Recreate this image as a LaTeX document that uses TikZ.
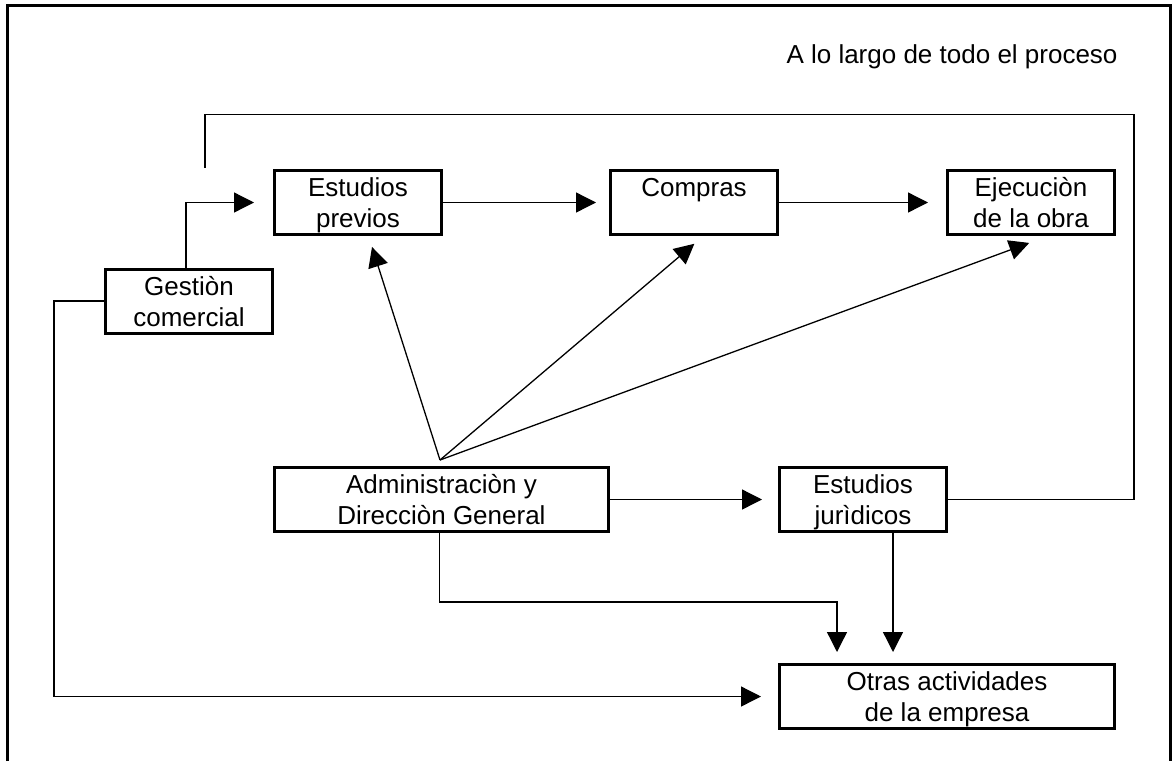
\documentclass[tikz,border=0pt]{standalone}
\usepackage{fontspec}
\setmainfont{Liberation Sans}
\usetikzlibrary{arrows.meta}

\newcommand{\lineas}[2]{\rule{0pt}{25pt}#1\\#2\vphantom{p}}

\begin{document}
\begin{tikzpicture}[x=1pt,y=-1pt,
    font=\fontsize{26}{31}\selectfont,
    caja/.style={draw,line width=3pt,minimum width=167pt,minimum height=64pt,inner sep=0pt,align=center},
    con/.style={line width=1.3pt},
    flecha/.style={con,-{Triangle[length=20pt,width=20pt]}}]
  \useasboundingbox (0,0) rectangle (1172,761);
  \draw[line width=3pt] (7,761) -- (7,5) -- (1170,5) -- (1170,761);

  \node[anchor=base] (proceso) at (952,63) {A lo largo de todo el proceso};

  \node[caja] (gest) at (189,301) {\lineas{Gestiòn}{comercial}};
  \node[caja] (prev) at (358,202.5) {\lineas{Estudios}{previos}};
  \node[caja] (comp) at (694,202.5) {\lineas{Compras}{}};
  \node[caja] (ejec) at (1031,202.5) {\lineas{Ejecuciòn}{de la obra}};
  \node[caja,minimum width=334pt] (admin) at (441.5,499.5) {\lineas{Administraciòn y}{Direcciòn General}};
  \node[caja] (jur) at (863,499.5) {\lineas{Estudios}{jurìdicos}};
  \node[caja,minimum width=335pt] (otras) at (947,696.5) {\lineas{Otras actividades}{de la empresa}};

  \coordinate (apex) at (440,460);
  \coordinate (fin) at (205,168);

  \draw[flecha,shorten >=19pt] ([xshift=-3pt]gest.north) |- (prev.west);
  \draw[flecha,shorten >=13pt] (prev.east) -- (comp.west);
  \draw[flecha,shorten >=18pt] (comp.east) -- (ejec.west);
  \draw[flecha,shorten >=11.5pt] (apex) -- ([xshift=10.5pt]prev.south);
  \draw[flecha,shorten >=12pt] (apex) -- ([xshift=9.5pt]comp.south);
  \draw[flecha,shorten >=20pt] (apex) -- ([xshift=17pt]ejec.south);
  \draw[flecha,shorten >=16pt] (admin.east) -- (jur.west);
  \draw[flecha,shorten >=11pt] ([xshift=-2pt]admin.south) -- ++(0,69) -| ([xshift=-110pt]otras.north);
  \draw[flecha,shorten >=11pt] ([xshift=30pt]jur.south) -- ([xshift=30pt]jur.south |- otras.north);
  \draw[flecha,shorten >=17pt] (gest.west) -- ++(-50,0) |- (otras.west);
  \draw[con] (jur.east) -| ++(186,-385) -| (fin);
\end{tikzpicture}
\end{document}
